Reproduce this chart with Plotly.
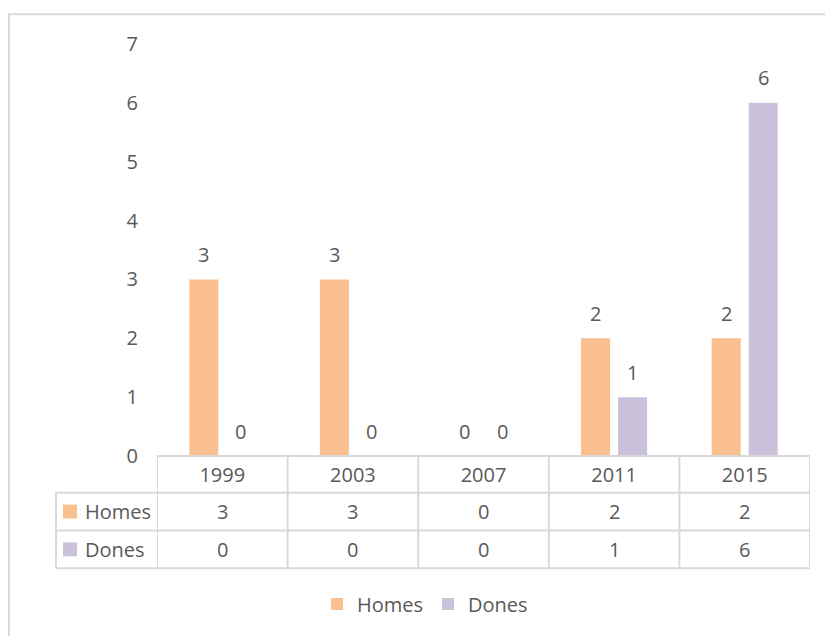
import plotly.graph_objects as go

# Data
years = ["1999", "2003", "2007", "2011", "2015"]
homes = [3, 3, 0, 2, 2]
dones = [0, 0, 0, 1, 6]
series_names = ["Homes", "Dones"]

# Styling
colors = ["#FAC090", "#CCC1DA"]
text_color = "#595959"
line_color = "#D9D9D9"
font_family = "Open Sans"
font_size = 20

W, H = 825, 636
ML, MR, MT, MB = 157, 15, 44, 177
plot_w = W - ML - MR
plot_h = H - MT - MB
bargap = 0.433
bargroupgap = 0.216

cat_w = plot_w / len(years)
bar_shift = (1 - bargap) * cat_w / 4  # centre offset of each bar in its group


def py(px):
    """Convert a pixel row (from the top) into paper y."""
    return (H - MB - px) / plot_h


def pxx(px):
    """Convert a pixel column into paper x."""
    return (px - ML) / plot_w


fig = go.Figure()
all_series = [homes, dones]
for name, vals, col in zip(series_names, all_series, colors):
    fig.add_trace(go.Bar(x=years, y=vals, name=name, marker=dict(color=col, line=dict(width=0))))

label_font = dict(size=font_size, color=text_color, family=font_family)
annotations = []
# Value labels above the bars (category index used as x position)
for si, vals in enumerate(all_series):
    shift = -bar_shift if si == 0 else bar_shift
    for ci, v in enumerate(vals):
        annotations.append(dict(x=ci, y=v, xref="x", yref="y", text=str(v), showarrow=False,
                                xshift=shift, yshift=25, yanchor="middle", font=label_font))

# Data table rows
row_tops = [496, 534]
row_h = 38
for si, (name, vals, col) in enumerate(zip(series_names, all_series, colors)):
    yc = py(row_tops[si] + row_h / 2)
    for ci, v in enumerate(vals):
        annotations.append(dict(x=ci, y=yc, xref="x", yref="paper", text=str(v), showarrow=False,
                                yanchor="middle", xanchor="center", font=label_font))
    annotations.append(dict(x=pxx(83), y=yc, xref="paper", yref="paper", text=name, showarrow=False,
                            xanchor="left", yanchor="middle", font=label_font))

shapes = []
# Outer chart border (top and left edges visible)
shapes.append(dict(type="rect", xref="paper", yref="paper", x0=pxx(9), x1=pxx(900), y0=py(700), y1=py(14),
                   line=dict(color=line_color, width=2), layer="below"))
# Table grid
t_left, t_mid, t_right = 56, 157, 810
t_top, t_bottom = 459, 572
for yline, xl in [(t_top, t_mid), (496, t_left), (534, t_left), (t_bottom, t_left)]:
    shapes.append(dict(type="line", xref="paper", yref="paper", x0=pxx(xl), x1=pxx(t_right),
                       y0=py(yline), y1=py(yline), line=dict(color=line_color, width=2)))
shapes.append(dict(type="line", xref="paper", yref="paper", x0=pxx(t_left), x1=pxx(t_left),
                   y0=py(496), y1=py(t_bottom), line=dict(color=line_color, width=2)))
for k in range(len(years) + 1):
    shapes.append(dict(type="line", xref="x", yref="paper", x0=k - 0.5, x1=k - 0.5,
                       y0=py(t_top), y1=py(t_bottom), line=dict(color=line_color, width=2)))
# Colour keys in the table
for si, col in enumerate(colors):
    top = row_tops[si] + 12
    shapes.append(dict(type="rect", xref="paper", yref="paper", x0=pxx(63), x1=pxx(77),
                       y0=py(top + 14), y1=py(top), fillcolor=col, line=dict(width=0)))

fig.update_layout(
    width=W, height=H,
    margin=dict(l=ML, r=MR, t=MT, b=MB),
    paper_bgcolor="white", plot_bgcolor="white",
    barmode="group", bargap=bargap, bargroupgap=bargroupgap,
    font=dict(family=font_family, size=font_size, color=text_color),
    showlegend=True,
    legend=dict(orientation="h", x=pxx(425), xanchor="center", y=py(608), yanchor="middle",
                font=dict(size=font_size, color=text_color), itemwidth=30),
    annotations=annotations,
    shapes=shapes,
)
fig.update_xaxes(type="category", range=[-0.5, len(years) - 0.5], showgrid=False, zeroline=False,
                 showline=False, ticks="", ticklabelstandoff=5,
                 tickfont=dict(size=font_size, color=text_color, family=font_family))
fig.update_yaxes(range=[0, 7], dtick=1, showgrid=False, zeroline=False, showline=False, ticks="",
                 ticklabelstandoff=18,
                 tickfont=dict(size=font_size, color=text_color, family=font_family))

fig.write_html("out.html")
